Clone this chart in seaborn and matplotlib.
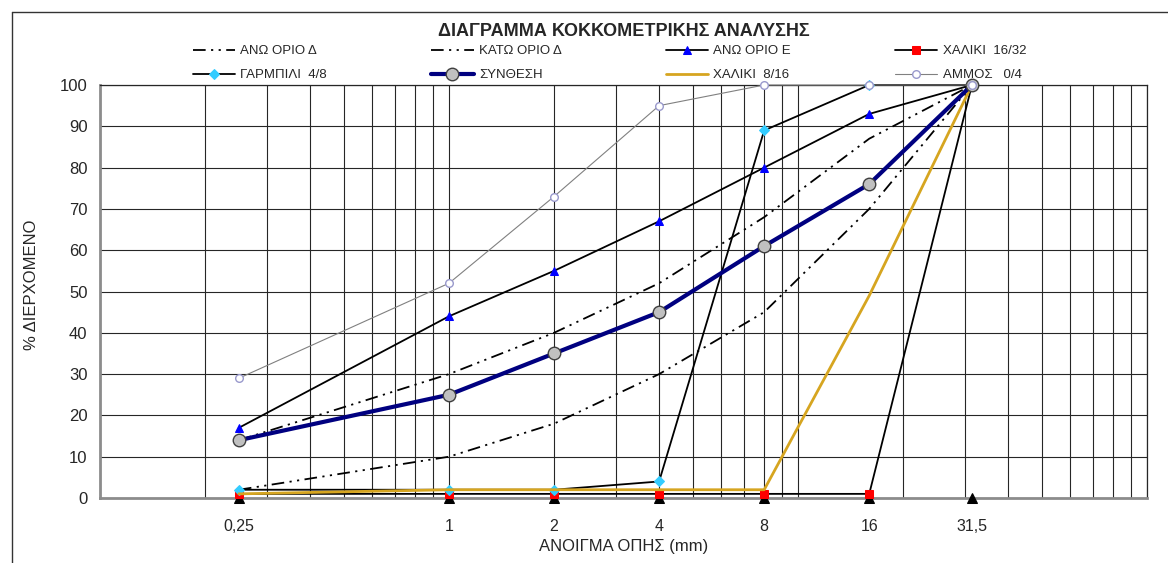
import matplotlib
matplotlib.use("Agg")
import matplotlib.pyplot as plt
from matplotlib.lines import Line2D
from matplotlib.ticker import LogLocator, FixedLocator, FixedFormatter, NullFormatter
import seaborn as sns
import numpy as np

sns.set_style("white")
plt.rcParams['font.family'] = ['Liberation Sans', 'DejaVu Sans']

# ---------------- data ----------------
sieve_sizes = [0.25, 1, 2, 4, 8, 16, 31.5]
sieve_labels = ["0,25", "1", "2", "4", "8", "16", "31,5"]

ano_orio_d = [14, 30, 40, 52, 68, 87, 100]
kato_orio_d = [2, 10, 18, 30, 45, 70, 100]
ano_orio_e = [17, 44, 55, 67, 80, 93, 100]
xaliki_16_32 = [1, 1, 1, 1, 1, 1, 100]
garmpili_4_8 = [2, 2, 2, 4, 89, 100, 100]
synthesi = [14, 25, 35, 45, 61, 76, 100]
xaliki_8_16 = [1, 2, 2, 2, 2, 49, 100]
ammos_0_4 = [29, 52, 73, 95, 100, 100, 100]
baseline = [0, 0, 0, 0, 0, 0, 0]

series_names = ["ΑΝΩ ΟΡΙΟ Δ", "ΚΑΤΩ ΟΡΙΟ Δ", "ΑΝΩ ΟΡΙΟ Ε", "ΧΑΛΙΚΙ  16/32",
                "ΓΑΡΜΠΙΛΙ  4/8", "ΣΥΝΘΕΣΗ", "ΧΑΛΙΚΙ  8/16", "ΑΜΜΟΣ   0/4"]

# ---------------- figure ----------------
fig = plt.figure(figsize=(11.68, 5.63), dpi=100)
ax = fig.add_axes([100/1168, 1-498/563, (1147-100)/1168, (498-85)/563])

dashdotdot = (0, (7, 3, 1.2, 3, 1.2, 3))
common = dict(ax=ax, estimator=None, sort=False, clip_on=False)

sns.lineplot(x=sieve_sizes, y=baseline, color='none', marker='^', markersize=7,
             markerfacecolor='black', markeredgecolor='black', label='_nolegend_',
             zorder=3, **common)
sns.lineplot(x=sieve_sizes, y=ano_orio_d, color='black', lw=1.3, linestyle=dashdotdot,
             label=series_names[0], zorder=4, **common)
sns.lineplot(x=sieve_sizes, y=kato_orio_d, color='black', lw=1.3, linestyle=dashdotdot,
             label=series_names[1], zorder=4, **common)
sns.lineplot(x=sieve_sizes, y=ano_orio_e, color='black', lw=1.3, marker='^', markersize=6,
             markerfacecolor='#0000ff', markeredgecolor='#0000ff',
             label=series_names[2], zorder=5, **common)
sns.lineplot(x=sieve_sizes, y=xaliki_16_32, color='black', lw=1.3, marker='s', markersize=6,
             markerfacecolor='#ff0000', markeredgecolor='#ff0000',
             label=series_names[3], zorder=5, **common)
sns.lineplot(x=sieve_sizes, y=garmpili_4_8, color='black', lw=1.3, marker='D', markersize=5,
             markerfacecolor='#33ccff', markeredgecolor='#33ccff',
             label=series_names[4], zorder=6, **common)
sns.lineplot(x=sieve_sizes, y=synthesi, color='#000080', lw=3, marker='o', markersize=9,
             markerfacecolor='#c0c0c0', markeredgecolor='#404040', markeredgewidth=1,
             label=series_names[5], zorder=7, **common)
sns.lineplot(x=sieve_sizes, y=xaliki_8_16, color='#d6a520', lw=2,
             label=series_names[6], zorder=6, **common)
sns.lineplot(x=sieve_sizes, y=ammos_0_4, color='#808080', lw=0.8, marker='o', markersize=5.5,
             markerfacecolor='white', markeredgecolor='#9999cc', markeredgewidth=1,
             label=series_names[7], zorder=8, **common)

# ---------------- axes ----------------
ax.set_xscale('log')
ax.set_xlim(0.1, 100)
ax.set_ylim(0, 100)
ax.xaxis.remove_overlapping_locs = False
ax.xaxis.set_major_locator(FixedLocator(sieve_sizes))
ax.xaxis.set_major_formatter(FixedFormatter(sieve_labels))
ax.xaxis.set_minor_locator(LogLocator(base=10, subs=np.arange(1, 10), numticks=20))
ax.xaxis.set_minor_formatter(NullFormatter())
ax.set_yticks(np.arange(0, 101, 10))

ax.tick_params(axis='x', which='both', length=0, pad=15, labelsize=11.5)
ax.tick_params(axis='y', which='major', length=4, width=1, color='#808080', pad=5, labelsize=12)
ax.grid(False)
ax.xaxis.grid(True, which='minor', color='#262626', lw=0.8)
ax.yaxis.grid(True, which='major', color='#262626', lw=0.8)
ax.set_axisbelow(True)

for s in ['left', 'bottom']:
    ax.spines[s].set_color('#8c8c8c')
    ax.spines[s].set_linewidth(2)
for s in ['top', 'right']:
    ax.spines[s].set_color('#262626')
    ax.spines[s].set_linewidth(0.9)

ax.set_xlabel("ΑΝΟΙΓΜΑ ΟΠΗΣ (mm)", fontsize=12, labelpad=4)
ax.set_ylabel("")
fig.text(32/1168, 1-285/563, "% ΔΙΕΡΧΟΜΕΝΟ", rotation=90, fontsize=12,
         ha='center', va='center')

fig.text(624/1168, 1-31/563, "ΔΙΑΓΡΑΜΜΑ ΚΟΚΚΟΜΕΤΡΙΚΗΣ ΑΝΑΛΥΣΗΣ", fontsize=13,
         fontweight='bold', ha='center', va='center')

# ---------------- legend ----------------
handles, labels = ax.get_legend_handles_labels()
lut = dict(zip(labels, handles))
order = [series_names[i] for i in [0, 4, 1, 5, 2, 6, 3, 7]]
leg = ax.legend([lut[n] for n in order], order, ncol=4, frameon=False,
                loc='upper left', bbox_to_anchor=(193/1168, 1-45/563),
                bbox_transform=fig.transFigure, fontsize=9.5,
                handlelength=3.2, handletextpad=0.4, columnspacing=7.9,
                labelspacing=0.9, borderaxespad=0, borderpad=0)

# outer frame (only top and left edges visible)
fig.add_artist(Line2D([12/1168, 12/1168], [0, 1-12/563], transform=fig.transFigure,
                      color='#333333', lw=1))
fig.add_artist(Line2D([12/1168, 1], [1-12/563, 1-12/563], transform=fig.transFigure,
                      color='#333333', lw=1))

fig.savefig("out.png", dpi=100)
